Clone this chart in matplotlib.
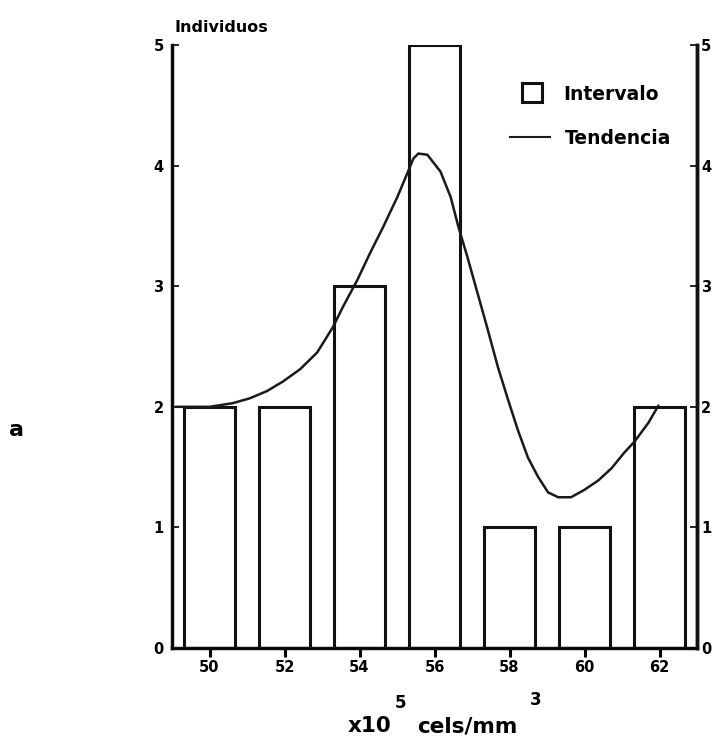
import matplotlib
matplotlib.use("Agg")
import matplotlib.pyplot as plt
from matplotlib.patches import Rectangle
from matplotlib.lines import Line2D

# Data
bins = [50, 52, 54, 56, 58, 60, 62]
counts = [2, 2, 3, 5, 1, 1, 2]
trend_x = [49.1, 50.0, 50.62, 51.07, 51.53, 51.96, 52.41, 52.87, 53.29, 53.56,
           53.94, 54.29, 54.63, 55.01, 55.28, 55.44, 55.57, 55.81, 56.16, 56.43,
           56.64, 56.88, 57.15, 57.42, 57.69, 57.96, 58.22, 58.49, 58.76, 59.03,
           59.30, 59.64, 59.99, 60.37, 60.72, 61.06, 61.33, 61.71, 61.97]
trend_y = [2.0, 2.0, 2.03, 2.07, 2.13, 2.21, 2.31, 2.45, 2.66, 2.83,
           3.05, 3.28, 3.49, 3.74, 3.94, 4.06, 4.10, 4.09, 3.95, 3.74,
           3.49, 3.24, 2.94, 2.64, 2.33, 2.06, 1.81, 1.58, 1.42, 1.29,
           1.25, 1.25, 1.31, 1.39, 1.49, 1.62, 1.71, 1.87, 2.01]
yticks = [0, 1, 2, 3, 4, 5]
legend_labels = ['Intervalo', 'Tendencia']

plt.rcParams['font.family'] = ['DejaVu Sans']
plt.rcParams['font.weight'] = 'bold'

W, H = 715, 739
fig = plt.figure(figsize=(W/100, H/100), dpi=100)
ax = fig.add_axes([172/W, 1-648/H, (697-172)/W, (648-45)/H])

ax.bar(bins, counts, width=1.37, facecolor='white', edgecolor='#111111', linewidth=2.2, zorder=2)
ax.plot(trend_x, trend_y, color='#1a1a1a', linewidth=1.8, zorder=3,
        solid_joinstyle='round', solid_capstyle='round')

ax.set_xlim(49, 63)
ax.set_ylim(0, 5)
ax.set_xticks(bins)
ax.set_xticklabels([str(b) for b in bins], fontsize=10.5, fontweight='bold')
ax.set_yticks(yticks)
ax.set_yticklabels([str(v) for v in yticks], fontsize=10.5, fontweight='bold')
ax.tick_params(axis='x', direction='inout', length=13, width=2.2, pad=2)
ax.tick_params(axis='y', direction='in', length=5, width=1.2, pad=6)
ax.spines['top'].set_visible(False)
for s in ['left', 'right', 'bottom']:
    ax.spines[s].set_linewidth(2.5)
    ax.spines[s].set_color('#111111')

ax2 = ax.twinx()
ax2.set_ylim(0, 5)
ax2.set_yticks(yticks)
ax2.set_yticklabels([str(v) for v in yticks], fontsize=10.5, fontweight='bold')
ax2.tick_params(axis='y', direction='in', length=5, width=1.2, pad=3)
ax2.spines['top'].set_visible(False)
ax2.spines['right'].set_linewidth(2.5)
ax2.spines['right'].set_color('#111111')

fig.text(175/W, 1-27/H, 'Individuos', fontsize=11.5, fontweight='bold', va='center', ha='left')
fig.text(9/W, 1-430/H, 'a', fontsize=16, fontweight='bold', va='center', ha='left')

fig.text(348/W, 1-726/H, 'x10', fontsize=15.5, fontweight='bold', va='center', ha='left')
fig.text(417/W, 1-726/H, 'cels/mm', fontsize=15.5, fontweight='bold', va='center', ha='left')
fig.text(400/W, 1-703/H, '5', fontsize=12, fontweight='bold', va='center', ha='center')
fig.text(536/W, 1-700/H, '3', fontsize=12, fontweight='bold', va='center', ha='center')

# Legend (drawn manually for the square marker and longer line sample)
fig.patches.append(Rectangle((522/W, 1-102/H), 20/W, 19/H, transform=fig.transFigure,
                             facecolor='white', edgecolor='#111111', linewidth=2.2))
fig.lines.append(Line2D([510/W, 550/W], [1-137/H, 1-137/H], transform=fig.transFigure,
                        color='#1a1a1a', linewidth=1.5))
fig.text(563/W, 1-94/H, legend_labels[0], fontsize=13.5, fontweight='bold', va='center', ha='left')
fig.text(565/W, 1-138/H, legend_labels[1], fontsize=13.5, fontweight='bold', va='center', ha='left')

fig.savefig('out.png', dpi=100, facecolor='white')
